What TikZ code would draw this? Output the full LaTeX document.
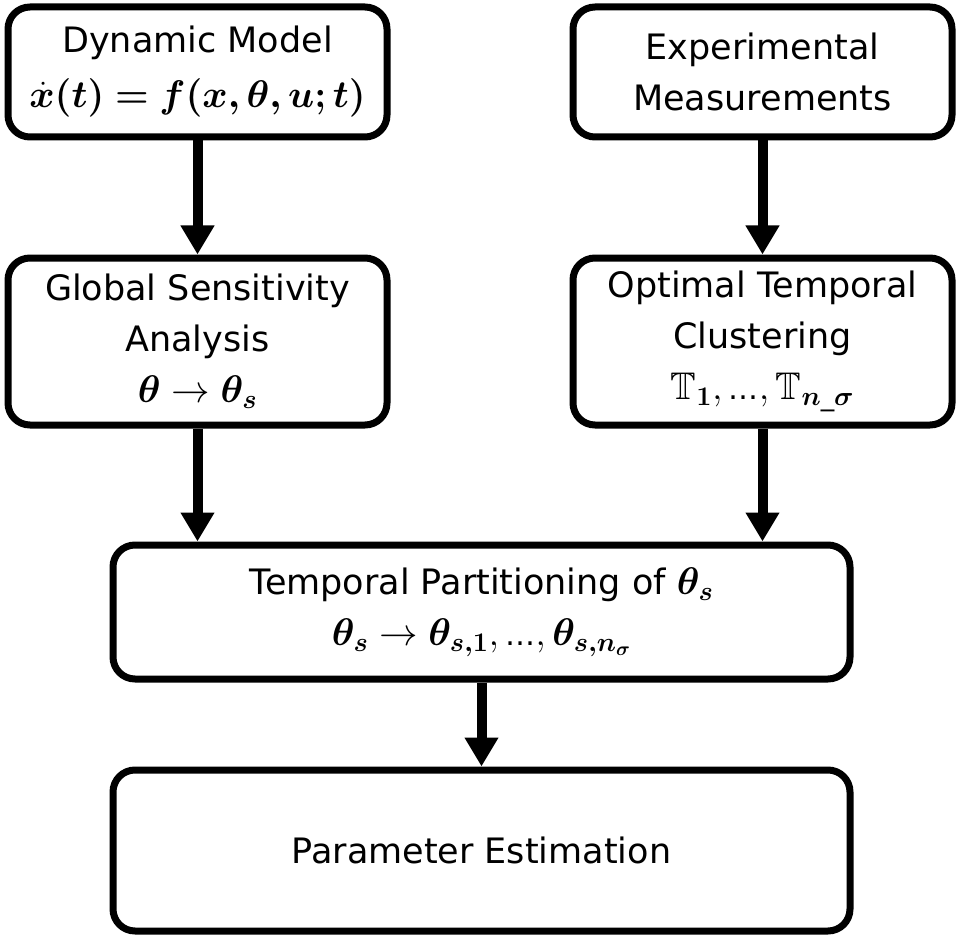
\RequirePackage{fix-cm}
\documentclass[tikz,border=0pt]{standalone}
\usepackage{amsmath,amssymb,bm}
\usepackage{fontspec}
\setmainfont{DejaVu Sans}
\usetikzlibrary{arrows.meta}
\newcommand{\mth}[1]{{\fontsize{38.5}{50}\selectfont$#1$}}
\newcommand{\mydots}{\text{\fontsize{30}{50}\selectfont …}}
\begin{document}
\begin{tikzpicture}[x=1pt,y=-1pt,
  box/.style={draw, line width=7pt, rounded corners=22pt, align=center, inner sep=0pt,
    font=\fontsize{35}{51}\selectfont},
  arr/.style={line width=10pt, -{Triangle[width=32pt,length=29pt]}}]
\useasboundingbox (0,0) rectangle (962,939);
\node[box, minimum width=379pt, minimum height=130pt] (dm) at (197.5,72)
  {Dynamic Model\\[4pt] \mth{\bm{\dot{x}(t)=f(x,\theta,u;t)}}};
\node[box, minimum width=379pt, minimum height=130pt] (em) at (762.5,72)
  {Experimental\\ Measurements};
\node[box, minimum width=379pt, minimum height=167pt] (gsa) at (197.5,341.5)
  {Global Sensitivity\\ Analysis\\ \mth{\bm{\theta}\rightarrow\bm{\theta_s}}};
\node[box, minimum width=379pt, minimum height=167pt] (otc) at (762.5,341.5)
  {Optimal Temporal\\ Clustering\\ \mth{\mathbb{T}_{\bm{1}},\mydots,\mathbb{T}_{\bm{n}\_\bm{\sigma}}}};
\node[box, minimum width=737pt, minimum height=134pt] (tp) at (481.5,612)
  {Temporal Partitioning of \mth{\bm{\theta_s}}\\ \mth{\bm{\theta_s}\rightarrow\bm{\theta_{s,1}},\mydots,\bm{\theta_{s,n_\sigma}}}};
\node[box, minimum width=737pt, minimum height=161pt] (pe) at (481.5,850.5)
  {Parameter Estimation};
\draw[arr] (dm) -- (gsa);
\draw[arr] (em) -- (otc);
\draw[arr] (gsa.south) -- (gsa.south |- tp.north);
\draw[arr] (otc.south) -- (otc.south |- tp.north);
\draw[arr] (tp) -- (pe);
\end{tikzpicture}
\end{document}
